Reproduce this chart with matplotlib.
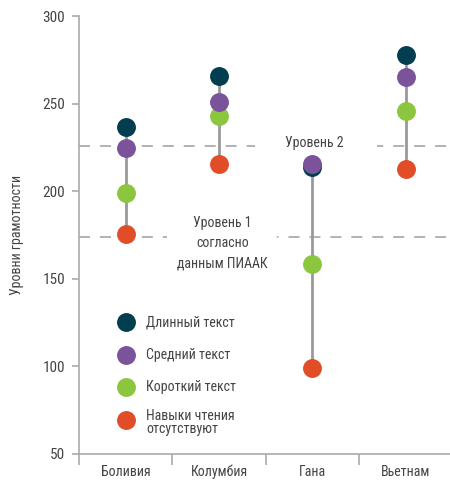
import matplotlib
matplotlib.use("Agg")
import matplotlib.pyplot as plt
from matplotlib import font_manager

# Prefer a narrow sans; fall back to Roboto, then DejaVu
names = {f.name for f in font_manager.fontManager.ttflist}
preferred = ['Liberation Sans Narrow', 'Roboto Condensed', 'Open Sans Condensed', 'Roboto']
family = [n for n in preferred if n in names][:1] + ['DejaVu Sans']
plt.rcParams['font.family'] = family

countries = ["Боливия", "Колумбия", "Гана", "Вьетнам"]
long_text = [236.5, 265.5, 213.5, 278.0]
medium_text = [224.5, 251.0, 215.5, 265.0]
short_text = [199.0, 243.0, 158.5, 246.0]
no_reading = [175.5, 215.5, 99.0, 212.5]

series_labels = ["Длинный текст", "Средний текст", "Короткий текст", "Навыки чтения\nотсутствуют"]
series_colors = ["#033d50", "#7a539b", "#8cc63f", "#e04d26"]

level1 = 174.0
level2 = 225.5

text_color = "#444444"
axis_color = "#aaaaaa"
fs = 10

fig = plt.figure(figsize=(4.5, 4.84), dpi=100)
ax_w_px = 373.3
ax = fig.add_axes([79 / 450, 30.3 / 484, ax_w_px / 450, 437.7 / 484])
ax.set_xlim(-0.5, 3.5)
ax.set_ylim(50, 300)

x = list(range(len(countries)))
series = [long_text, medium_text, short_text, no_reading]

# vertical range line per country
for i in x:
    vals = [s[i] for s in series]
    ax.plot([i, i], [min(vals), max(vals)], color="#999999", lw=2, zorder=1, solid_capstyle="butt")

# threshold dashed lines, interrupted around their labels; the dash phase
# is kept continuous from the y axis across the gap
dash_lw = 1.3
on_u, off_u = 6.1, 5.5          # in units of line width
px_per_unit = ax_w_px / 4.0     # pixels per category


def dashed_segment(x0, x1, y):
    offset_pts = (x0 + 0.5) * px_per_unit * 0.72
    ls = (offset_pts / dash_lw, (on_u, off_u))
    ax.plot([x0, x1], [y, y], color="#acacac", lw=dash_lw, linestyle=ls,
            dash_capstyle="butt", zorder=0)


dashed_segment(-0.5, 0.443, level1)
dashed_segment(1.621, 3.5, level1)
dashed_segment(-0.5, 1.386, level2)
dashed_segment(2.693, 3.5, level2)

# points; the medium-text series sits on top where points overlap
for k in [3, 2, 0, 1]:
    ax.scatter(x, series[k], s=185, color=series_colors[k], zorder=4 if k == 1 else 3, linewidths=0)

ax.text(2.02, 227.6, "Уровень 2", ha="center", va="center", fontsize=fs, color=text_color)
ax.text(1.04, 170.3, "Уровень 1\nсогласно\nданным ПИААК", ha="center", va="center",
        fontsize=fs, color=text_color, linespacing=1.55)

# legend drawn as markers and labels inside the axes
legend_y = [125, 106.5, 88, 69]
for k, yv in enumerate(legend_y):
    ax.scatter([0.0], [yv], s=185, color=series_colors[k], linewidths=0, zorder=3)
    ax.text(0.22, yv if k < 3 else yv - 1.0, series_labels[k], ha="left", va="center",
            fontsize=fs, color=text_color, linespacing=0.9)

# axes styling
for side in ("top", "right"):
    ax.spines[side].set_visible(False)
for side in ("left", "bottom"):
    ax.spines[side].set_color(axis_color)
    ax.spines[side].set_linewidth(1.2)

ax.set_yticks([50, 100, 150, 200, 250, 300])
ax.tick_params(axis="y", length=5, width=1.2, color=axis_color, labelcolor=text_color, labelsize=11, pad=5)

ax.set_xticks([-0.5, 0.5, 1.5, 2.5], labels=[""] * 4)
ax.set_xticks(x, labels=countries, minor=True)
ax.tick_params(axis="x", which="major", length=8, width=1.2, color=axis_color)
ax.tick_params(axis="x", which="minor", length=0, labelcolor=text_color, labelsize=fs, pad=8)

ax.set_ylabel("Уровни грамотности", color=text_color, fontsize=fs, labelpad=13)

fig.savefig("out.png", dpi=100)
